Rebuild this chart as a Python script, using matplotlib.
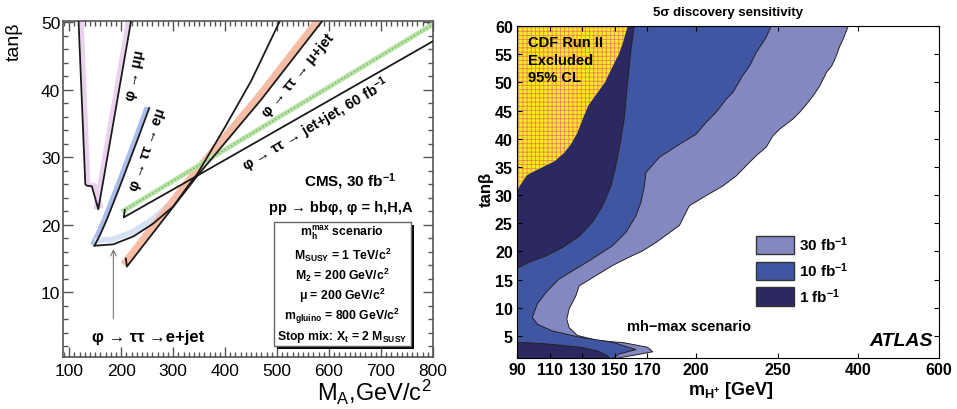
import numpy as np
import matplotlib
matplotlib.use('Agg')
import matplotlib.pyplot as plt
import matplotlib.transforms as mtransforms
from matplotlib.patches import Polygon, Patch, Rectangle

plt.rcParams['font.family'] = ['Liberation Sans', 'DejaVu Sans']
plt.rcParams['mathtext.fontset'] = 'custom'
plt.rcParams['mathtext.rm'] = 'Liberation Sans'
plt.rcParams['mathtext.it'] = 'Liberation Sans:italic'
plt.rcParams['mathtext.bf'] = 'Liberation Sans:bold'
plt.rcParams['hatch.linewidth'] = 0.55

# ---------------- left panel data (CMS, M_A vs tan(beta)) ----------------
mumu_ma = [118, 131, 134, 143.6, 156, 219]
mumu_tb = [50.2, 26.0, 25.8, 25.7, 22.3, 50.2]

emu_ma = [148.7, 160, 172.5, 200, 230, 254]
emu_tb = [16.9, 18.6, 20.8, 26.2, 32.3, 37.3]

ejet_ma = [148.7, 185, 224, 262, 300, 330, 347, 400, 450, 506]
ejet_tb = [16.9, 17.1, 18.3, 20.2, 22.7, 25.9, 27.6, 34.5, 41.3, 50.3]

mujet_ma = [209, 211, 347, 470, 588]
mujet_tb = [15.0, 13.8, 27.3, 38.6, 50.3]

jetjet_ma = [207, 205, 347, 800]
jetjet_tb = [22.2, 21.1, 27.3, 47.2]

jetjet60_ma = [205, 800]
jetjet60_tb = [22.1, 49.7]

# ---------------- right panel data (ATLAS, m_H+ vs tan(beta)) ----------------
cdf_m = [158, 155, 152.5, 149, 144, 139, 134, 131, 127, 123, 119, 113, 106, 99, 96, 92.5, 90]
cdf_tb = [60, 57, 55, 53, 50, 48, 46, 44, 41, 39, 37.5, 36, 35, 34, 33.5, 32, 30.8]

lum1_hi_m = [162, 160, 157.9, 155.8, 153.8, 150.7, 147.7, 142.5, 136.3, 128.2, 117.9, 107.7, 97.4, 90]
lum1_hi_tb = [60, 55.9, 50, 43.5, 39.9, 35.2, 31.6, 28.1, 25.2, 22.7, 20.7, 19.2, 18.1, 17]

lum1_lo_m = [90, 108, 129, 139, 145.6, 147]
lum1_lo_tb = [3.9, 3.6, 3.0, 2.4, 1.5, 1.0]

lum10_m = [246.1, 243.0, 241.0, 236.9, 232.8, 228.6, 222.5, 218.4, 212.3, 206.1, 200.0,
           189.7, 177.4, 169.2, 168.2, 166.1, 163.0, 156.9, 148.6, 136.3, 126.1, 115.8,
           107.7, 102.5, 99.4, 102.5, 111.7, 128.2, 148.6, 163.0, 152.8, 148.6]
lum10_tb = [60, 58.0, 57.1, 55.3, 52.9, 51.2, 48.2, 47.0, 44.7, 42.9, 40.8,
            39.0, 36.7, 34.0, 31.6, 28.7, 26.3, 23.4, 21.0, 18.7, 16.9, 15.1,
            12.7, 10.7, 8.3, 7.1, 5.9, 4.8, 3.9, 2.6, 1.8, 1.0]

lum30_m = [381.8, 372.4, 366.3, 356.9, 350.7, 341.3, 328.8, 316.2, 303.8, 291.3, 278.7,
           266.3, 253.8, 247.1, 243.0, 236.9, 230.7, 224.6, 216.3, 206.1, 195.8, 193.0,
           189.7, 182.5, 175.4, 167.1, 158.9, 148.6, 138.4, 128.2, 126.1, 122.0, 120.6,
           122.0, 127.1, 139.4, 155.8, 170.2, 173.3, 162.0, 150.0]
lum30_tb = [60, 57.7, 56.5, 54.1, 52.9, 51.8, 49.4, 47.6, 46.1, 44.7, 43.5,
            42.6, 41.7, 40.5, 38.5, 37.0, 35.2, 33.4, 31.6, 29.9, 28.1, 26.5,
            24.6, 23.1, 21.6, 20.1, 19.0, 17.5, 15.7, 13.9, 12.1, 9.8, 8.0,
            6.5, 5.1, 4.2, 3.8, 3.0, 2.2, 1.6, 1.0]

mh_ticks = [90, 110, 130, 150, 170, 200, 250, 400, 600]
lum_labels = [r'30 fb$^{\mathbf{-1}}$', r'10 fb$^{\mathbf{-1}}$', r'1 fb$^{\mathbf{-1}}$']
lum_colors = ['#8488c1', '#4156a2', '#2b2862']

fig = plt.figure(figsize=(9.57, 4.10), dpi=100)

# ======================= left panel =======================
ax = fig.add_axes([0.0658, 0.1268, 0.3866, 0.8195])
ax.set_xlim(88, 800)
ax.set_ylim(0.4, 50.2)


def band(x, y, dx, dy, color, lw):
    tr = mtransforms.offset_copy(ax.transData, fig=fig, x=dx, y=dy, units='dots')
    ax.plot(x, y, color=color, lw=lw, transform=tr, solid_capstyle='butt', zorder=2)


band(mumu_ma[:5], mumu_tb[:5], 3, 1, '#ecd0f0', 3)
band(mumu_ma[4:], mumu_tb[4:], -3, 0, '#ecd0f0', 3)
band(emu_ma, emu_tb, -2.5, 1, '#a9bdea', 3)
band(ejet_ma[:7], ejet_tb[:7], 0, 5, '#d5e2f5', 4)
band(mujet_ma[1:], mujet_tb[1:], -3.5, 2, '#f6bca6', 5)
ax.plot(jetjet60_ma, jetjet60_tb, color='#b9e2a6', lw=3.5, zorder=2)
ax.plot(jetjet60_ma, jetjet60_tb, color='#6db85c', lw=1, ls=':', zorder=2)

for xs, ys in [(mumu_ma, mumu_tb), (emu_ma, emu_tb), (ejet_ma, ejet_tb),
               (mujet_ma, mujet_tb), (jetjet_ma, jetjet_tb)]:
    ax.plot(xs, ys, color='#1a1a1a', lw=1.3, zorder=3)

lab = dict(fontweight='bold', fontsize=10.5, ha='center', va='center', rotation_mode='anchor')
ax.text(227, 42.3, 'φ → μμ', rotation=79, **lab)
ax.text(250, 31.3, 'φ → ττ → eμ', rotation=71, **lab)
ax.text(541, 42.2, 'φ → ττ → μ+jet', rotation=50, **lab)
ax.text(575, 34.9, r'φ → ττ → jet+jet, 60 fb$^{\mathbf{-1}}$', rotation=30.5, **lab)

ax.annotate('', xy=(185, 16.8), xytext=(185, 5.7),
            arrowprops=dict(arrowstyle='->', color='#777777', lw=0.8))
ax.text(251, 3.5, 'φ → ττ →e+jet', fontsize=12, fontweight='bold', ha='center', va='center')

ax.text(0.776, 0.524, r'CMS, 30 fb$^{\mathbf{-1}}$', transform=ax.transAxes,
        fontsize=11, fontweight='bold', ha='center', va='center')
ax.text(0.751, 0.446, 'pp → bbφ, φ = h,H,A', transform=ax.transAxes,
        fontsize=10.5, fontweight='bold', ha='center', va='center')

ax.add_patch(Rectangle((0.578, 0.025), 0.37, 0.367, transform=ax.transAxes,
                       facecolor='black', edgecolor='none', zorder=4))
ax.add_patch(Rectangle((0.570, 0.034), 0.37, 0.367, transform=ax.transAxes,
                       facecolor='white', edgecolor='#666666', lw=1, zorder=5))
box_lines = [r'm$_{\mathbf{h}}^{\mathbf{max}}$ scenario',
             r'M$_{\mathbf{SUSY}}$ = 1 TeV/c$^{\mathbf{2}}$',
             r'M$_{\mathbf{2}}$ = 200 GeV/c$^{\mathbf{2}}$',
             r'μ = 200 GeV/c$^{\mathbf{2}}$',
             r'm$_{\mathbf{gluino}}$ = 800 GeV/c$^{\mathbf{2}}$',
             r'Stop mix: X$_{\mathbf{t}}$ = 2 M$_{\mathbf{SUSY}}$']
for yy, s in zip([0.372, 0.307, 0.245, 0.185, 0.123, 0.063], box_lines):
    ax.text(0.755, yy, s, transform=ax.transAxes, fontsize=8.8, fontweight='bold',
            ha='center', va='center', zorder=6)

ax.set_xticks(np.arange(100, 801, 100))
ax.set_yticks([10, 20, 30, 40, 50])
ax.set_xticks(np.arange(90, 800, 10), minor=True)
ax.set_yticks(np.arange(2, 50, 2), minor=True)
ax.tick_params(which='both', direction='in', top=True, right=True, color='#555555',
               labelsize=12.5, width=1)
ax.tick_params(which='major', length=7)
ax.tick_params(which='minor', length=3.5)
ax.tick_params(axis='x', pad=4)
ax.tick_params(axis='y', pad=2)
for sp in ax.spines.values():
    sp.set_color('#555555')
    sp.set_linewidth(1.2)
ax.set_xlabel(r'M$_{\mathrm{A}}$,GeV/c$^{2}$', fontsize=17, loc='right')
ax.xaxis.set_label_coords(0.995, -0.058)
ax.set_ylabel('tanβ', fontsize=14, loc='top')
ax.yaxis.set_label_coords(-0.11, 1.0)

# ======================= right panel =======================
ax2 = fig.add_axes([0.5402, 0.1244, 0.4410, 0.8098])
knots_g = [90, 250, 400, 600]
knots_u = [0, 160, 209.4, 259.1]
ax2.set_xscale('function', functions=(lambda v: np.interp(v, knots_g, knots_u),
                                       lambda u: np.interp(u, knots_u, knots_g)))
ax2.set_xlim(90, 600)
ax2.set_ylim(1.1, 60)

edge = dict(edgecolor='#222222', lw=0.7)
v30 = [(90, 62), (lum30_m[0], 62)] + list(zip(lum30_m, lum30_tb)) + [(lum30_m[-1], 0), (90, 0)]
ax2.add_patch(Polygon(v30, closed=True, facecolor=lum_colors[0], zorder=1, **edge))
v10 = [(90, 62), (lum10_m[0], 62)] + list(zip(lum10_m, lum10_tb)) + [(lum10_m[-1], 0), (90, 0)]
ax2.add_patch(Polygon(v10, closed=True, facecolor=lum_colors[1], zorder=1.1, **edge))
v1h = [(90, 62), (lum1_hi_m[0], 62)] + list(zip(lum1_hi_m, lum1_hi_tb))
ax2.add_patch(Polygon(v1h, closed=True, facecolor=lum_colors[2], zorder=1.2, **edge))
v1l = [(90, 0)] + list(zip(lum1_lo_m, lum1_lo_tb)) + [(lum1_lo_m[-1], 0)]
ax2.add_patch(Polygon(v1l, closed=True, facecolor=lum_colors[2], zorder=1.2, **edge))
vcdf = [(90, 62), (cdf_m[0], 62)] + list(zip(cdf_m, cdf_tb))
ax2.add_patch(Polygon(vcdf, closed=True, facecolor='#f5ec1f', edgecolor='#f07a62',
                      lw=0, hatch='++++', zorder=1.3))

ax2.text(0.026, 0.972, 'CDF Run II\nExcluded\n95% CL', transform=ax2.transAxes,
         fontsize=10.5, fontweight='bold', ha='left', va='top', linespacing=1.3, zorder=5)
ax2.text(0.408, 0.097, 'mh−max scenario', transform=ax2.transAxes,
         fontsize=10.5, fontweight='bold', ha='center', va='center')
ax2.text(0.985, 0.052, 'ATLAS', transform=ax2.transAxes, fontsize=14,
         fontweight='bold', style='italic', ha='right', va='center')

handles = [Patch(facecolor=c, edgecolor='#333333', lw=1) for c in lum_colors]
ax2.legend(handles, lum_labels, loc='upper left', bbox_to_anchor=(0.566, 0.372),
           frameon=False, handlelength=2.5, handleheight=1.45, handletextpad=0.3,
           labelspacing=0.4, borderpad=0, borderaxespad=0,
           prop=dict(weight='bold', size=11))

ax2.set_xticks(mh_ticks)
ax2.set_xticklabels([str(t) for t in mh_ticks], fontweight='bold')
ax2.set_yticks(np.arange(5, 61, 5))
ax2.set_yticklabels([str(t) for t in range(5, 61, 5)], fontweight='bold')
ax2.xaxis.set_minor_locator(matplotlib.ticker.NullLocator())
ax2.tick_params(which='both', direction='in', top=True, right=True, length=3.5,
                labelsize=11.5, width=0.8)
ax2.tick_params(axis='x', pad=3)
ax2.tick_params(axis='y', pad=3)
ax2.set_title('5σ discovery sensitivity', fontsize=9.5, fontweight='bold', pad=8)
ax2.set_xlabel(r'$\mathbf{m}_{\mathbf{H^{+}}}$ [GeV]', fontsize=13, fontweight='bold')
ax2.xaxis.set_label_coords(0.507, -0.064)
ax2.set_ylabel('tanβ', fontsize=12, fontweight='bold')
ax2.yaxis.set_label_coords(-0.055, 0.51)

fig.savefig('out.png', dpi=100)
